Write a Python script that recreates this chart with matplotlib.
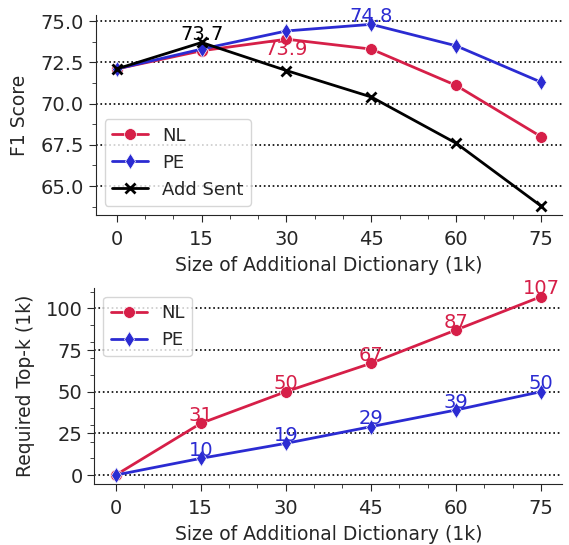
import matplotlib
matplotlib.use("Agg")
import matplotlib.pyplot as plt
import seaborn as sns
from matplotlib.ticker import MultipleLocator

sizes = [0, 15, 30, 45, 60, 75]
f1_nl = [72.1, 73.2, 73.9, 73.3, 71.1, 68.0]
f1_pe = [72.1, 73.3, 74.4, 74.8, 73.5, 71.3]
f1_add = [72.1, 73.7, 72.0, 70.4, 67.6, 63.8]
topk_nl = [0, 31, 50, 67, 87, 107]
topk_pe = [0, 10, 19, 29, 39, 50]

sns.set_style("ticks")
plt.rcParams['font.family'] = ['DejaVu Sans']

RED = "#d61f48"
BLUE = "#2b2bd2"
BLACK = "#000000"
fs = 14

fig = plt.figure(figsize=(5.69, 5.45), dpi=100)
ax1 = fig.add_axes([0.168, 0.6055, 0.820, 0.3665])
ax2 = fig.add_axes([0.166, 0.112, 0.822, 0.360])

# Top chart
ax1.plot(sizes, f1_nl, color=RED, marker='o', markersize=8.5, lw=2, label='NL',
         markeredgecolor='white', markeredgewidth=0.5)
ax1.plot(sizes, f1_pe, color=BLUE, marker='d', markersize=8.5, lw=2, label='PE',
         markeredgecolor='white', markeredgewidth=0.5)
ax1.plot(sizes, f1_add, color=BLACK, marker='x', markersize=6.5, lw=2, mew=2,
         label='Add Sent')
ax1.set_ylabel('F1 Score', fontsize=fs - 0.5, labelpad=8)
ax1.set_xlabel('Size of Additional Dictionary (1k)', fontsize=fs - 0.5, labelpad=5)
ax1.set_xticks(sizes)
ax1.set_yticks([65.0, 67.5, 70.0, 72.5, 75.0])
ax1.set_yticklabels(['65.0', '67.5', '70.0', '72.5', '75.0'])
ax1.xaxis.set_minor_locator(MultipleLocator(5))
ax1.yaxis.set_minor_locator(MultipleLocator(1.25))
for yv in [65.0, 67.5, 70.0, 72.5, 75.0]:
    ax1.axhline(yv, color='black', ls=':', lw=1.2, zorder=0)
ax1.text(sizes[1], f1_add[1] - 0.1, f"{f1_add[1]:.1f}", color=BLACK, ha='center', va='bottom', fontsize=fs)
ax1.text(sizes[3], f1_pe[3] - 0.1, f"{f1_pe[3]:.1f}", color=BLUE, ha='center', va='bottom', fontsize=fs)
ax1.text(sizes[2], f1_nl[2] - 0.05, f"{f1_nl[2]:.1f}", color=RED, ha='center', va='top', fontsize=fs)
ax1.legend(loc='lower left', fontsize=fs - 1, frameon=True)

# Bottom chart
ax2.plot(sizes, topk_nl, color=RED, marker='o', markersize=8.5, lw=2, label='NL',
         markeredgecolor='white', markeredgewidth=0.5)
ax2.plot(sizes, topk_pe, color=BLUE, marker='d', markersize=8.5, lw=2, label='PE',
         markeredgecolor='white', markeredgewidth=0.5)
ax2.set_ylabel('Required Top-k (1k)', fontsize=fs - 0.5, labelpad=8)
ax2.set_xlabel('Size of Additional Dictionary (1k)', fontsize=fs - 0.5, labelpad=5)
ax2.set_xticks(sizes)
ax2.set_yticks([0, 25, 50, 75, 100])
ax2.xaxis.set_minor_locator(MultipleLocator(5))
ax2.yaxis.set_minor_locator(MultipleLocator(10))
for yv in [0, 25, 50, 75, 100]:
    ax2.axhline(yv, color='black', ls=':', lw=1.2, zorder=0)
for x, a, b in zip(sizes[1:], topk_nl[1:], topk_pe[1:]):
    ax2.text(x, a - 1, str(a), color=RED, ha='center', va='bottom', fontsize=fs)
    ax2.text(x, b - 1, str(b), color=BLUE, ha='center', va='bottom', fontsize=fs)
ax2.legend(loc='upper left', fontsize=fs - 1, frameon=True)

for ax in (ax1, ax2):
    ax.tick_params(axis='both', which='major', labelsize=fs, length=5)
    ax.tick_params(axis='x', which='major', pad=6)
    ax.tick_params(axis='both', which='minor', length=3)
    sns.despine(ax=ax)

fig.savefig('out.png', dpi=100)
